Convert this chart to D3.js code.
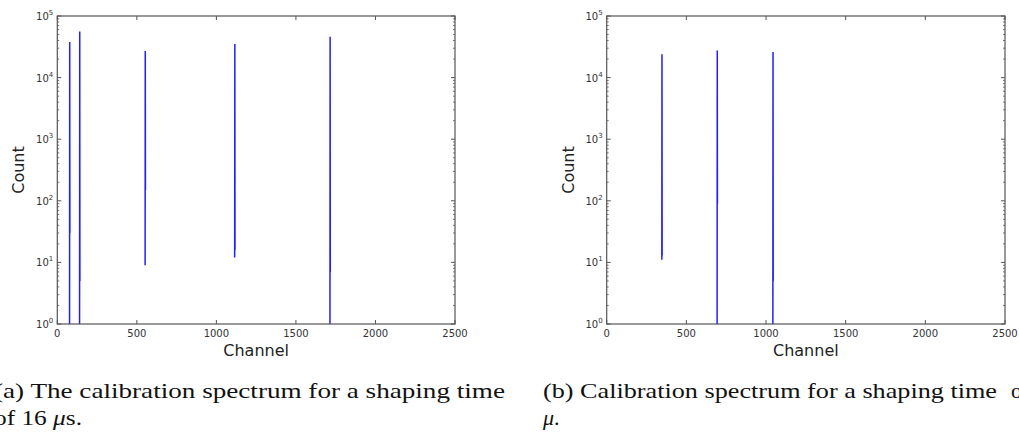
<!DOCTYPE html>
<meta charset="utf-8">
<html>
<head>
  <title>Calibration spectra</title>
  <style>
    body { margin: 0; background: #fff; }
    svg { display: block; }
  </style>
</head>
<body>
  <script src="https://d3js.org/d3.v7.js"></script>
  <div id="my_dataviz"></div>

  <script>
    // axis ranges and ticks
    var xTicks = [0, 500, 1000, 1500, 2000, 2500];
    var yDecades = [0, 1, 2, 3, 4, 5];

    // (a) shaping time 16 us : one peak per entry
    var leftPeakChannel = [78, 141, 553, 1116, 1715];
    var leftPeakCount = [38000, 56000, 27000, 35000, 46000];
    var leftBaseCount = [30, 5, 150, 16, 7];   // low end of the thick (both flanks) part
    var leftTailCount = [1, 1, 9, 12, 1];      // low end of the single flank

    // (b)
    var rightPeakChannel = [347, 694, 1044];
    var rightPeakCount = [24000, 27500, 26000];
    var rightBaseCount = [13, 90, 5];
    var rightTailCount = [11, 1, 1];

    var W = 1019, H = 438;
    var svg = d3.select("#my_dataviz")
      .append("svg")
      .attr("width", W)
      .attr("height", H);

    function drawPanel(left, right, channels, peaks, bases, tails) {
      var top = 16, bottom = 324;
      var g = svg.append("g");

      var x = d3.scaleLinear().domain([0, 2500]).range([left, right]);
      var y = d3.scaleLog().domain([1, 1e5]).range([bottom, top]).clamp(true);

      // spikes
      var line = d3.line()
        .x(function (d) { return x(d[0]); })
        .y(function (d) { return y(Math.max(d[1], 1)); });

      channels.forEach(function (c, i) {
        var pts = [[c - 1, tails[i]], [c, peaks[i]], [c + 1, bases[i]]];
        g.append("path")
          .attr("d", line(pts))
          .attr("fill", "none")
          .attr("stroke", "#2020ff")
          .attr("stroke-width", 1.5);
      });

      var tickCol = "#555";

      // x ticks (bottom + top, inward)
      xTicks.forEach(function (t) {
        g.append("line").attr("x1", x(t)).attr("x2", x(t))
          .attr("y1", bottom).attr("y2", bottom - 4)
          .attr("stroke", tickCol).attr("stroke-width", 1);
        g.append("line").attr("x1", x(t)).attr("x2", x(t))
          .attr("y1", top).attr("y2", top + 4)
          .attr("stroke", tickCol).attr("stroke-width", 1);
        g.append("text")
          .attr("x", x(t)).attr("y", bottom + 13)
          .attr("text-anchor", "middle")
          .attr("font-family", "DejaVu Sans")
          .attr("font-size", 10)
          .attr("fill", "#333")
          .text(t);
      });

      // y ticks, major + minor, left and right
      yDecades.forEach(function (e) {
        var v = Math.pow(10, e);
        [left, right].forEach(function (px, k) {
          var dir = k == 0 ? 1 : -1;
          g.append("line").attr("x1", px).attr("x2", px + dir * 4)
            .attr("y1", y(v)).attr("y2", y(v))
            .attr("stroke", tickCol).attr("stroke-width", 1);
          if (e < 5) {
            for (var m = 2; m <= 9; m++) {
              g.append("line").attr("x1", px).attr("x2", px + dir * 2)
                .attr("y1", y(m * v)).attr("y2", y(m * v))
                .attr("stroke", tickCol).attr("stroke-width", 0.8);
            }
          }
        });
        var lab = g.append("text")
          .attr("x", left - 4).attr("y", y(v) + 4)
          .attr("text-anchor", "end")
          .attr("font-family", "DejaVu Sans")
          .attr("font-size", 10)
          .attr("fill", "#333");
        lab.append("tspan").text("10");
        lab.append("tspan").attr("dy", -5).attr("font-size", 7).text(e);
      });

      // frame
      g.append("rect")
        .attr("x", left).attr("y", top)
        .attr("width", right - left).attr("height", bottom - top)
        .attr("fill", "none")
        .attr("stroke", "#555")
        .attr("stroke-width", 1.2);

      // axis labels
      g.append("text")
        .attr("x", (left + right) / 2).attr("y", 356)
        .attr("text-anchor", "middle")
        .attr("font-family", "DejaVu Sans")
        .attr("font-size", 16)
        .attr("fill", "#222")
        .text("Channel");
      g.append("text")
        .attr("transform", "translate(" + (left - 33) + "," + ((top + bottom) / 2) + ") rotate(-90)")
        .attr("text-anchor", "middle")
        .attr("font-family", "DejaVu Sans")
        .attr("font-size", 16)
        .attr("fill", "#222")
        .text("Count");
    }

    drawPanel(57.3, 455, leftPeakChannel, leftPeakCount, leftBaseCount, leftTailCount);
    drawPanel(606.7, 1005, rightPeakChannel, rightPeakCount, rightBaseCount, rightTailCount);

    // captions (the reference crops them at both page edges)
    function caption(xp, yp, len, parts) {
      var t = svg.append("text")
        .attr("x", xp).attr("y", yp)
        .attr("font-family", "Liberation Serif")
        .attr("font-size", 22)
        .attr("fill", "#111");
      if (len) t.attr("textLength", len).attr("lengthAdjust", "spacingAndGlyphs");
      parts.forEach(function (p) {
        var s = t.append("tspan").text(p[0]);
        if (p[1]) s.attr("font-style", "italic");
      });
    }
    caption(-6, 398, 511, [["(a) The calibration spectrum for a shaping time"]]);
    caption(-6, 425, 88, [["of 16 "], ["\u03bc", true], ["s."]]);
    caption(543, 398, 454, [["(b) Calibration spectrum for a shaping time"]]);
    caption(1011, 398, null, [["of"]]);
    caption(543, 425, null, [["\u03bc", true], ["."]]);
  </script>
</body>
</html>
